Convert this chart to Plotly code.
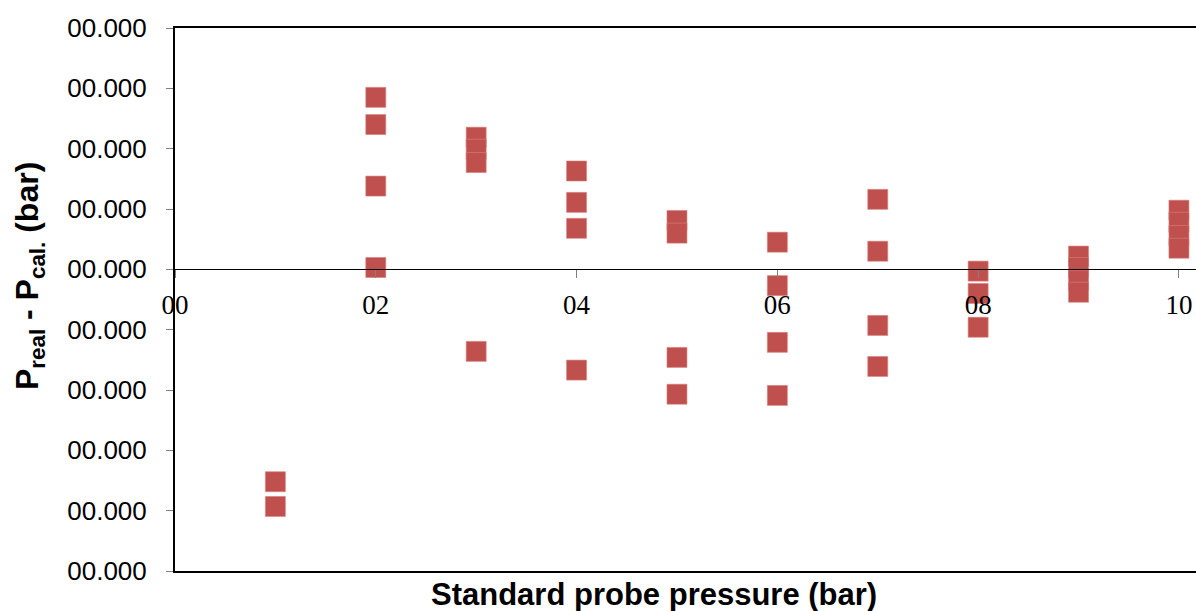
import plotly.graph_objects as go

# Calibration residuals: standard probe pressure vs. (P_real - P_cal.)
pressure = [1, 1,
            2, 2, 2, 2,
            3, 3, 3, 3,
            4, 4, 4, 4,
            5, 5, 5, 5,
            6, 6, 6, 6,
            7, 7, 7, 7,
            8, 8, 8,
            9, 9, 9, 9,
            10, 10, 10, 10]
deviation = [-0.0352, -0.0393,
             0.0285, 0.0240, 0.0138, 0.0003,
             0.0219, 0.0199, 0.0177, -0.0136,
             0.0163, 0.0111, 0.0068, -0.0167,
             0.0081, 0.0060, -0.0146, -0.0207,
             0.0045, -0.0027, -0.0121, -0.0209,
             0.0116, 0.0030, -0.0093, -0.0161,
             -0.0003, -0.0040, -0.0096,
             0.0022, 0.0003, -0.0018, -0.0038,
             0.0098, 0.0078, 0.0056, 0.0035]

x_tickvals = [0, 2, 4, 6, 8, 10]
x_ticktext = ["00", "02", "04", "06", "08", "10"]
y_tickvals = [-0.05, -0.04, -0.03, -0.02, -0.01, 0.0, 0.01, 0.02, 0.03, 0.04]
y_ticktext = ["00.000"] * len(y_tickvals)

X_RANGE = [0, 10.17]
Y_RANGE = [-0.05, 0.04]

fig = go.Figure()

# frame axis (bottom/top border)
fig.add_trace(go.Scatter(x=[], y=[], xaxis="x", yaxis="y", showlegend=False))

fig.add_trace(go.Scatter(
    x=pressure, y=deviation, mode="markers",
    xaxis="x2", yaxis="y",
    marker=dict(symbol="square", size=20, color="#C0504D",
                line=dict(width=0.6, color="#D7827F")),
    showlegend=False, hoverinfo="x+y",
))

zero_pos = (0 - Y_RANGE[0]) / (Y_RANGE[1] - Y_RANGE[0])

fig.update_layout(
    width=1196, height=611,
    margin=dict(l=175, r=0, t=28, b=40),
    paper_bgcolor="white", plot_bgcolor="white",
    xaxis=dict(range=X_RANGE, showline=True, linecolor="black", linewidth=2,
               mirror=True, showticklabels=False, ticks="", showgrid=False,
               zeroline=False, fixedrange=True),
    xaxis2=dict(range=X_RANGE, overlaying="x", anchor="free", position=zero_pos,
                side="bottom", tickvals=x_tickvals, ticktext=x_ticktext,
                ticks="outside", ticklen=8, tickwidth=1, tickcolor="#808080",
                showline=True, linecolor="black", linewidth=1,
                showgrid=False, zeroline=False, ticklabelstandoff=3,
                tickfont=dict(family="Liberation Serif", size=27, color="black")),
    yaxis=dict(range=Y_RANGE, tickvals=y_tickvals, ticktext=y_ticktext,
               ticks="outside", ticklen=7, tickwidth=1, tickcolor="#808080",
               showline=True, linecolor="black", linewidth=2,
               showgrid=False, zeroline=False, ticklabelstandoff=14,
               tickfont=dict(family="Liberation Sans", size=26, color="black")),
    annotations=[
        dict(text="<b>P<sub>real</sub> - P<sub>cal.</sub> (bar)</b>",
             xref="paper", yref="paper", x=(29 - 175) / 1021, y=(571 - 276) / 543,
             xanchor="center", yanchor="middle", textangle=-90, showarrow=False,
             font=dict(family="Liberation Sans", size=32, color="black")),
        dict(text="<b>Standard probe pressure (bar)</b>",
             xref="paper", yref="paper", x=(654 - 175) / 1021, y=(571 - 594) / 543,
             xanchor="center", yanchor="middle", showarrow=False,
             font=dict(family="Liberation Sans", size=31, color="black")),
    ],
)

fig.write_html("out.html")
